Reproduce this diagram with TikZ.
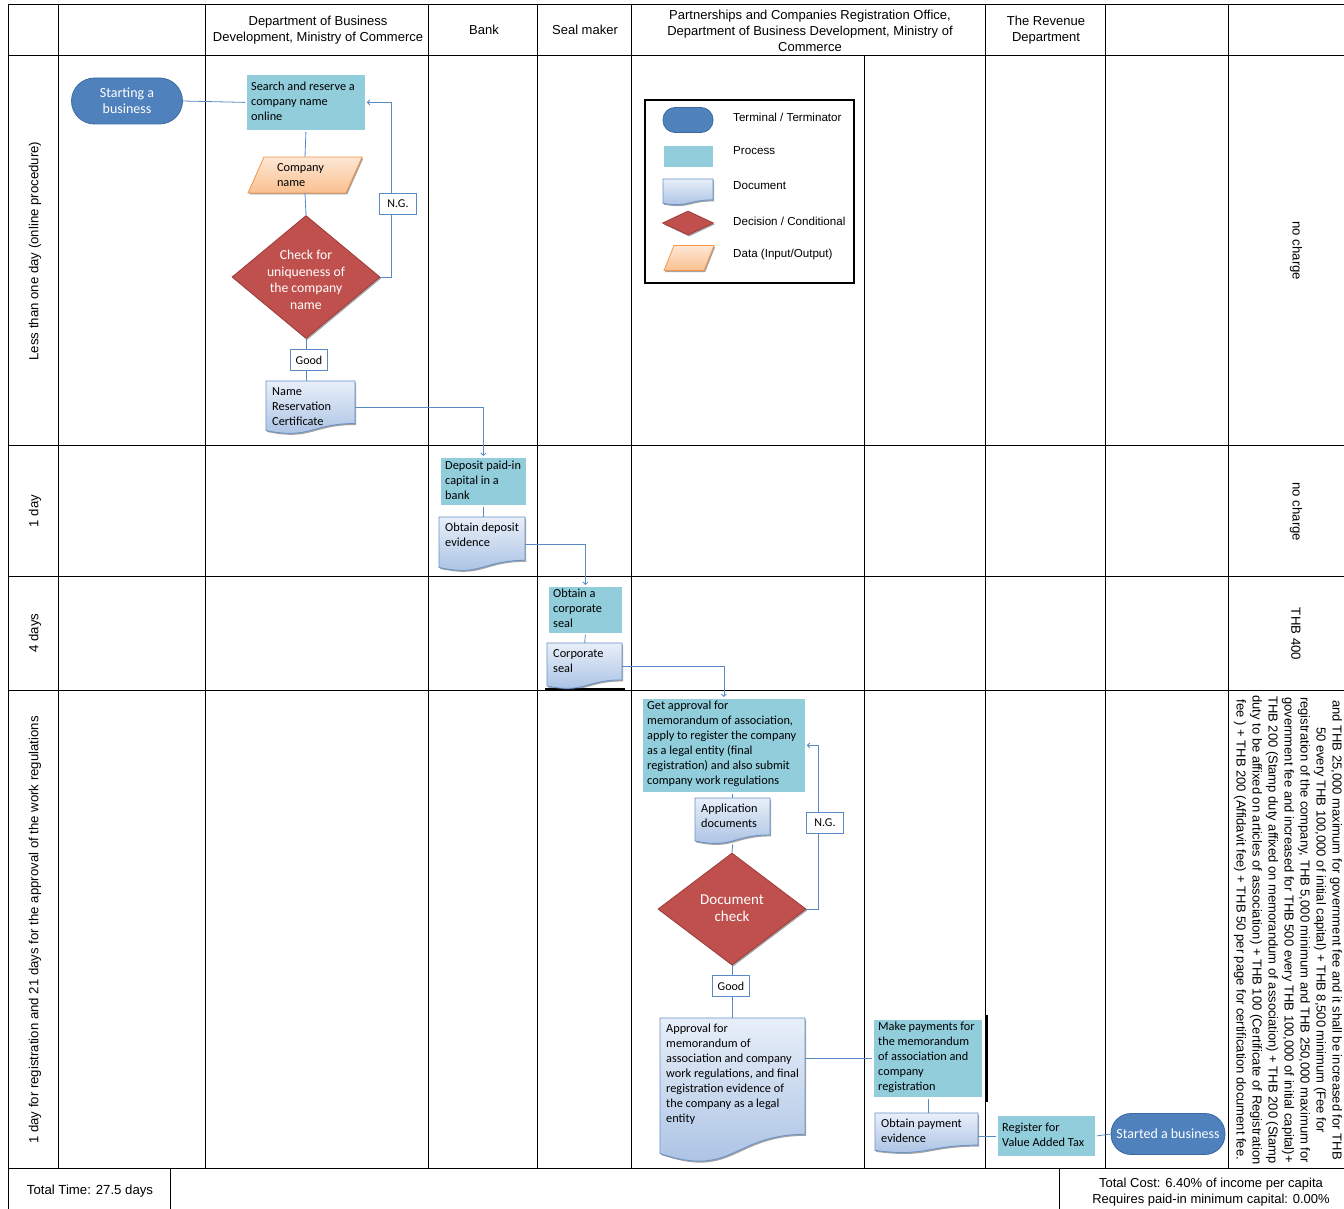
\documentclass[tikz,border=0pt]{standalone}
\usepackage{fontspec}
\setmainfont{Liberation Sans}
\newfontfamily\calfont{Carlito}
\usetikzlibrary{shapes.geometric,shadows,arrows.meta,calc}
\definecolor{termC}{HTML}{4F81BD}
\definecolor{termB}{HTML}{3C6AA0}
\definecolor{procC}{HTML}{92CDDC}
\definecolor{decC}{HTML}{C0504D}
\definecolor{decB}{HTML}{9E3B38}
\definecolor{docT}{HTML}{E8EFF9}
\definecolor{docB}{HTML}{A6BFE2}
\definecolor{docD}{HTML}{6A93C9}
\definecolor{dataT}{HTML}{FDE7D5}
\definecolor{dataB}{HTML}{FAC08F}
\definecolor{dataD}{HTML}{F79646}
\definecolor{connC}{HTML}{5A8AC6}
\newcommand\procnode[6]{%
  \node[proc, minimum width=#4, minimum height=#5, anchor=north west] (#1) at (#2,#3) {};
  \node[proctext, anchor=west] at ([xshift=6pt,yshift=1.5pt]#1.west) {#6};}
\newcommand\docnode[6]{%
  \path[docst] (#2,#3) -- ({#2+#4},#3) -- ({#2+#4},{#3+0.802*#5}) .. controls ({#2+0.5*#4},{#3+0.802*#5}) and ({#2+0.5*#4},{#3+1.107*#5}) .. (#2,{#3+0.934*#5}) -- cycle;
  \node[inner sep=0, minimum width=#4, minimum height=#5, anchor=north west] (#1) at (#2,#3) {};
  \node[proctext, anchor=north west] at ([xshift=6pt,yshift=-6pt]#1.north west) {#6};}
\newcommand\datanode[7]{%
  \path[datast] ({#2-#4/2},{#3+#5/2}) -- ({#2+#4/2-#6},{#3+#5/2}) -- ({#2+#4/2},{#3-#5/2}) -- ({#2-#4/2+#6},{#3-#5/2}) -- cycle;
  \node[inner sep=0, minimum width=#4, minimum height=#5] (#1) at (#2,#3) {};
  \node[proctext, anchor=west] at ([xshift=29pt]#1.west) {#7};}
\begin{document}
\begin{tikzpicture}[x=1pt,y=-1pt,
  grid/.style={draw=black, line width=0.9pt},
  conn/.style={draw=connC, line width=0.8pt},
  arr/.style={-{Straight Barb[length=2.5pt,width=5pt]}},
  shad/.style={drop shadow={shadow xshift=1.2pt, shadow yshift=-1.5pt, opacity=0.45, fill=black!80}},
  proc/.style={rectangle, fill=procC, draw=white, line width=1.8pt, shad, inner sep=0},
  proctext/.style={inner sep=0, align=left, font=\calfont\fontsize{12.3}{15}\selectfont},
  docst/.style={top color=docT, bottom color=docB, draw=docD, line width=0.8pt, shad},
  datast/.style={top color=dataT, bottom color=dataB, draw=dataD, line width=0.8pt, shad},
  term/.style={rectangle, fill=termC, draw=termB, line width=0.8pt, text=white, align=center, inner sep=0, font=\calfont\fontsize{14}{16}\selectfont},
  dec/.style={diamond, fill=decC, draw=decB, line width=0.8pt, inner sep=0, shad},
  dectext/.style={text=white, align=center, inner sep=0},
  lbl/.style={rectangle, fill=white, draw=connC, line width=1pt, inner sep=0, minimum width=37, minimum height=21, font=\calfont\fontsize{12}{13}\selectfont},
  hdr/.style={align=center, inner sep=0, font=\fontsize{13}{16}\selectfont},
  side/.style={inner sep=0, font=\fontsize{13.2}{15}\selectfont},
  legtext/.style={inner sep=0, anchor=west, font=\fontsize{11.6}{13}\selectfont}
]
\useasboundingbox (0,0) rectangle (1344,1209);
\fill[white] (0,0) rectangle (1344,1209);
% grid
\foreach \yy in {4,55,445,576,690,1168} \draw[grid] (8,\yy) -- (1344,\yy);
\draw[grid] (8,4) -- (8,1209);
\foreach \xx in {58,205,428,537,631,985,1105,1228} \draw[grid] (\xx,4) -- (\xx,1168);
\draw[grid] (864,55) -- (864,1168);
\draw[grid] (170,1168) -- (170,1209);
\draw[grid] (1059,1168) -- (1059,1209);
\draw[black, line width=2.5pt] (545,689) -- (625,689);
\draw[black, line width=2pt] (987,1015) -- (987,1102);
% headers
\node[hdr] (h1) at (318,30) {Department of Business\\Development, Ministry of Commerce};
\node[hdr] (h2) at (484,30) {Bank};
\node[hdr] (h3) at (585,30) {Seal maker};
\node[hdr] (h4) at (810,31) {Partnerships and Companies Registration Office,\\Department of Business Development, Ministry of\\Commerce};
\node[hdr] (h5) at (1046,30) {The Revenue\\Department};
% side labels
\node[side, rotate=90] (t1) at (35,251) {Less than one day (online procedure)};
\node[side, rotate=90] (t2) at (35,511) {1 day};
\node[side, rotate=90] (t3) at (35,633) {4 days};
\node[side, rotate=90] (t4) at (35,930) {1 day for registration and 21 days for the approval of the work regulations};
\node[side, rotate=-90] (c1) at (1296,251) {no charge};
\node[side, rotate=-90] (c2) at (1296,512) {no charge};
\node[side, rotate=-90] (c3) at (1296,634) {THB 400};
\node[rotate=-90, align=center, inner sep=0, font=\fontsize{13}{16}\selectfont] (c4) at (1288,930) {and THB 25,000 maximum for government fee and it shall be increased for THB\\50 every THB 100,000 of initial capital) + THB 8,500 minimum (Fee for\\registration of the company, THB 5,000 minimum and THB 250,000 maximum for\\government fee and increased for THB 500 every THB 100,000 of initial capital)+\\THB 200 (Stamp duty affixed on memorandum of association) + THB 200 (Stamp\\duty to be affixed on articles of association) + THB 100 (Certificate of Registration\\fee ) + THB 200 (Affidavit fee) + THB 50 per page for certification document fee.};
\node[side] (tt) at (90,1191) {Total Time: 27.5 days};
\node[hdr] (tc) at (1211,1192) {Total Cost: 6.40\% of income per capita\\Requires paid-in minimum capital: 0.00\%};
% legend
\node[draw=black, line width=2pt, minimum width=209, minimum height=183, anchor=north west, inner sep=0] (legend) at (644,99) {};
\node[term, minimum width=50, minimum height=25, rounded corners=12pt] (lgT) at (688,120) {};
\procnode{lgP}{662}{144}{51}{23}{}
\docnode{lgD}{663}{179}{50}{26}{}
\node[dec, minimum width=51, minimum height=24] (lgC) at (688,223) {};
\datanode{lgI}{689}{258}{50}{25}{10}{}
\node[legtext] (l1) at (733,117) {Terminal / Terminator};
\node[legtext] (l2) at (733,151) {Process};
\node[legtext] (l3) at (733,186) {Document};
\node[legtext] (l4) at (733,221) {Decision / Conditional};
\node[legtext] (l5) at (733,255) {Data (Input/Output)};
% row 1
\node[term, minimum width=111, minimum height=46, rounded corners=23pt] (start) at (127,101) {Starting a\\business};
\procnode{srch}{245}{73}{120}{57}{Search and reserve a\\company name\\online}
\draw[conn] (start.east) -- (srch.west);
\datanode{cn}{305}{175}{114}{36}{16}{Company\\name}
\node[dec, minimum width=148, minimum height=123] (chk) at (306,277) {};
\node[dectext, font=\calfont\fontsize{13.7}{16.5}\selectfont] (chkt) at (306,280) {Check for\\uniqueness of\\the company\\name};
\draw[conn] (srch.south) -- (cn.north);
\draw[conn] (cn.south) -- (chk.north);
\coordinate (ngx1) at (391,0);
\draw[conn,arr] (chk.east) -| (ngx1 |- srch.east) -- (srch.east);
\node[lbl] (ng1) at (398,204) {N.G.};
\docnode{nrc}{266}{381}{89}{53}{Name\\Reservation\\Certificate}
\draw[conn] (chk.south) -- (chk.south |- nrc.north);
\node[lbl] (good1) at (309,360) {Good};
% row 2
\procnode{dep}{439}{456}{87}{49}{Deposit paid-in\\capital in a\\bank}
\draw[conn,arr] (nrc.east) -| (dep.north);
\docnode{ode}{439}{517}{86}{54}{Obtain deposit\\evidence}
\draw[conn] (dep.south) -- (dep.south |- ode.north);
% row 3
\procnode{seal}{547}{585}{75}{48}{Obtain a\\corporate\\seal}
\draw[conn,arr] (ode.east) -| (seal.north);
\docnode{cs}{547}{643}{75}{46}{Corporate\\seal}
\draw[conn] (seal.south) -- (cs.north);
% row 4
\procnode{ga}{641}{697}{164}{95}{Get approval for\\memorandum of association,\\apply to register the company\\as a legal entity (final\\registration) and also submit\\company work regulations}
\draw[conn,arr] (cs.east) -| (ga.north);
\docnode{app}{695}{798}{75}{46}{Application\\documents}
\draw[conn] (app.north |- ga.south) -- (app.north);
\node[dec, minimum width=148, minimum height=112] (dchk) at (732,909) {};
\node[dectext, font=\calfont\fontsize{15}{17}\selectfont] (dchkt) at (732,908) {Document\\check};
\draw[conn] (app.south) -- (dchk.north);
\coordinate (ngx2) at (818,0);
\draw[conn,arr] (dchk.east) -| (ngx2 |- ga.east) -- (ga.east);
\node[lbl] (ng2) at (825,823) {N.G.};
\docnode{appr}{660}{1018}{145}{145}{Approval for\\memorandum of\\association and company\\work regulations, and final\\registration evidence of\\the company as a legal\\entity}
\draw[conn] (dchk.south) -- (dchk.south |- appr.north);
\node[lbl] (good2) at (731,986) {Good};
\procnode{mp}{872}{1018}{110}{79}{Make payments for\\the memorandum\\of association and\\company\\registration}
\draw[conn] (appr.east |- mp.west) -- (mp.west);
\docnode{ope}{875}{1113}{103}{40}{Obtain payment\\evidence}
\draw[conn] (mp.south) -- (mp.south |- ope.north);
\procnode{vat}{996}{1114}{99}{42}{Register for\\Value Added Tax}
\draw[conn] (ope.east |- vat.west) -- (vat.west);
\node[term, minimum width=114, minimum height=41, rounded corners=20pt] (fin) at (1168,1134) {Started a business};
\draw[conn] (vat.east) -- (fin.west);
\end{tikzpicture}
\end{document}
